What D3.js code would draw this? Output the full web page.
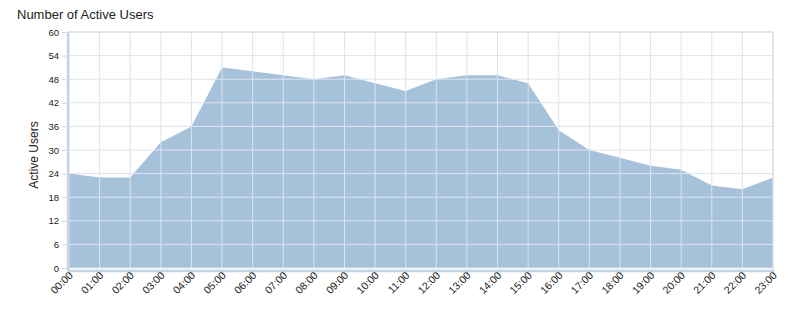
<!DOCTYPE html>
<head>
  <meta charset="utf-8">
  <script src="https://d3js.org/d3.v7.min.js"></script>
  <style>
    body { margin:0; background:#fff; }
    text { font-family: "Liberation Sans", Arial, sans-serif; fill:#222; }
    .grid line { stroke:#dde4ee; stroke-width:1px; }
    .axis path { display:none; }
    .axis line { stroke:#c5d3e2; }
  </style>
</head>
<body>
  <script>
    var hours = ["00:00","01:00","02:00","03:00","04:00","05:00","06:00","07:00","08:00","09:00","10:00","11:00",
                 "12:00","13:00","14:00","15:00","16:00","17:00","18:00","19:00","20:00","21:00","22:00","23:00"];
    var users = [24,23,23,32,36,51,50,49,48,49,47,45,48,49,49,47,35,30,28,26,25,21,20,23];
    var yTicks = [0,6,12,18,24,30,36,42,48,54,60];

    var svg = d3.select("body").append("svg")
      .attr("width",793)
      .attr("height",336)

    var pLeft = 69, pRight = 773, pTop = 32, pBottom = 268;

    var x = d3.scalePoint().domain(hours).range([pLeft,pRight])
    var y = d3.scaleLinear().domain([0,60]).range([pBottom,pTop])

    // title
    svg.append("text")
      .attr("x",17).attr("y",19)
      .style("font-size","13px")
      .text("Number of Active Users")

    // area
    var area = d3.area()
      .x(function(d,i){ return x(hours[i]); })
      .y0(y(0))
      .y1(function(d){ return y(d); })

    svg.append("path")
      .datum(users)
      .attr("d",area)
      .style("fill","#a6c1da")

    // grid on top
    var grid = svg.append("g").attr("class","grid")
    grid.selectAll("line.h").data(yTicks).enter().append("line")
      .attr("class","h")
      .attr("x1",pLeft).attr("x2",pRight)
      .attr("y1",function(d){ return y(d); })
      .attr("y2",function(d){ return y(d); })
    grid.selectAll("line.v").data(hours).enter().append("line")
      .attr("class","v")
      .attr("x1",function(d){ return x(d); })
      .attr("x2",function(d){ return x(d); })
      .attr("y1",pTop).attr("y2",pBottom)

    // frame
    svg.append("rect")
      .attr("x",pLeft-1).attr("y",pTop)
      .attr("width",pRight-pLeft+1).attr("height",pBottom-pTop+3)
      .style("fill","none")
      .style("stroke","#cfdbe8")
      .style("stroke-width",1)
    svg.append("line")
      .attr("x1",pLeft-1).attr("x2",pLeft-1).attr("y1",pTop).attr("y2",pBottom+3)
      .style("stroke","#c5d3e2").style("stroke-width",2.5)
    svg.append("line")
      .attr("x1",pLeft-1).attr("x2",pRight+1).attr("y1",pBottom+3).attr("y2",pBottom+3)
      .style("stroke","#c5d3e2").style("stroke-width",2.5)

    // y axis
    var yAxis = d3.axisLeft(y).tickValues(yTicks).tickSize(4).tickPadding(3)
    svg.append("g")
      .attr("class","axis")
      .attr("transform","translate(" + (pLeft-3) + ",0)")
      .call(yAxis)
      .selectAll("text")
      .style("font-size","9.5px")
      .style("font-family","'Liberation Sans', Arial, sans-serif")
      .style("fill","#222")

    // x axis
    var xAxis = d3.axisBottom(x).tickSize(4).tickPadding(2)
    var gx = svg.append("g")
      .attr("class","axis")
      .attr("transform","translate(0," + (pBottom+4) + ")")
      .call(xAxis)
    gx.selectAll("text")
      .style("font-size","10.5px")
      .style("font-family","'Liberation Sans', Arial, sans-serif")
      .style("fill","#222")
      .style("text-anchor","end")
      .attr("x",0)
      .attr("y",2)
      .attr("dy","0.35em")
      .attr("transform","rotate(-45)")

    // y label
    svg.append("text")
      .attr("transform","translate(38,155) rotate(-90)")
      .style("text-anchor","middle")
      .style("font-size","12px")
      .text("Active Users")
  </script>
</body>
